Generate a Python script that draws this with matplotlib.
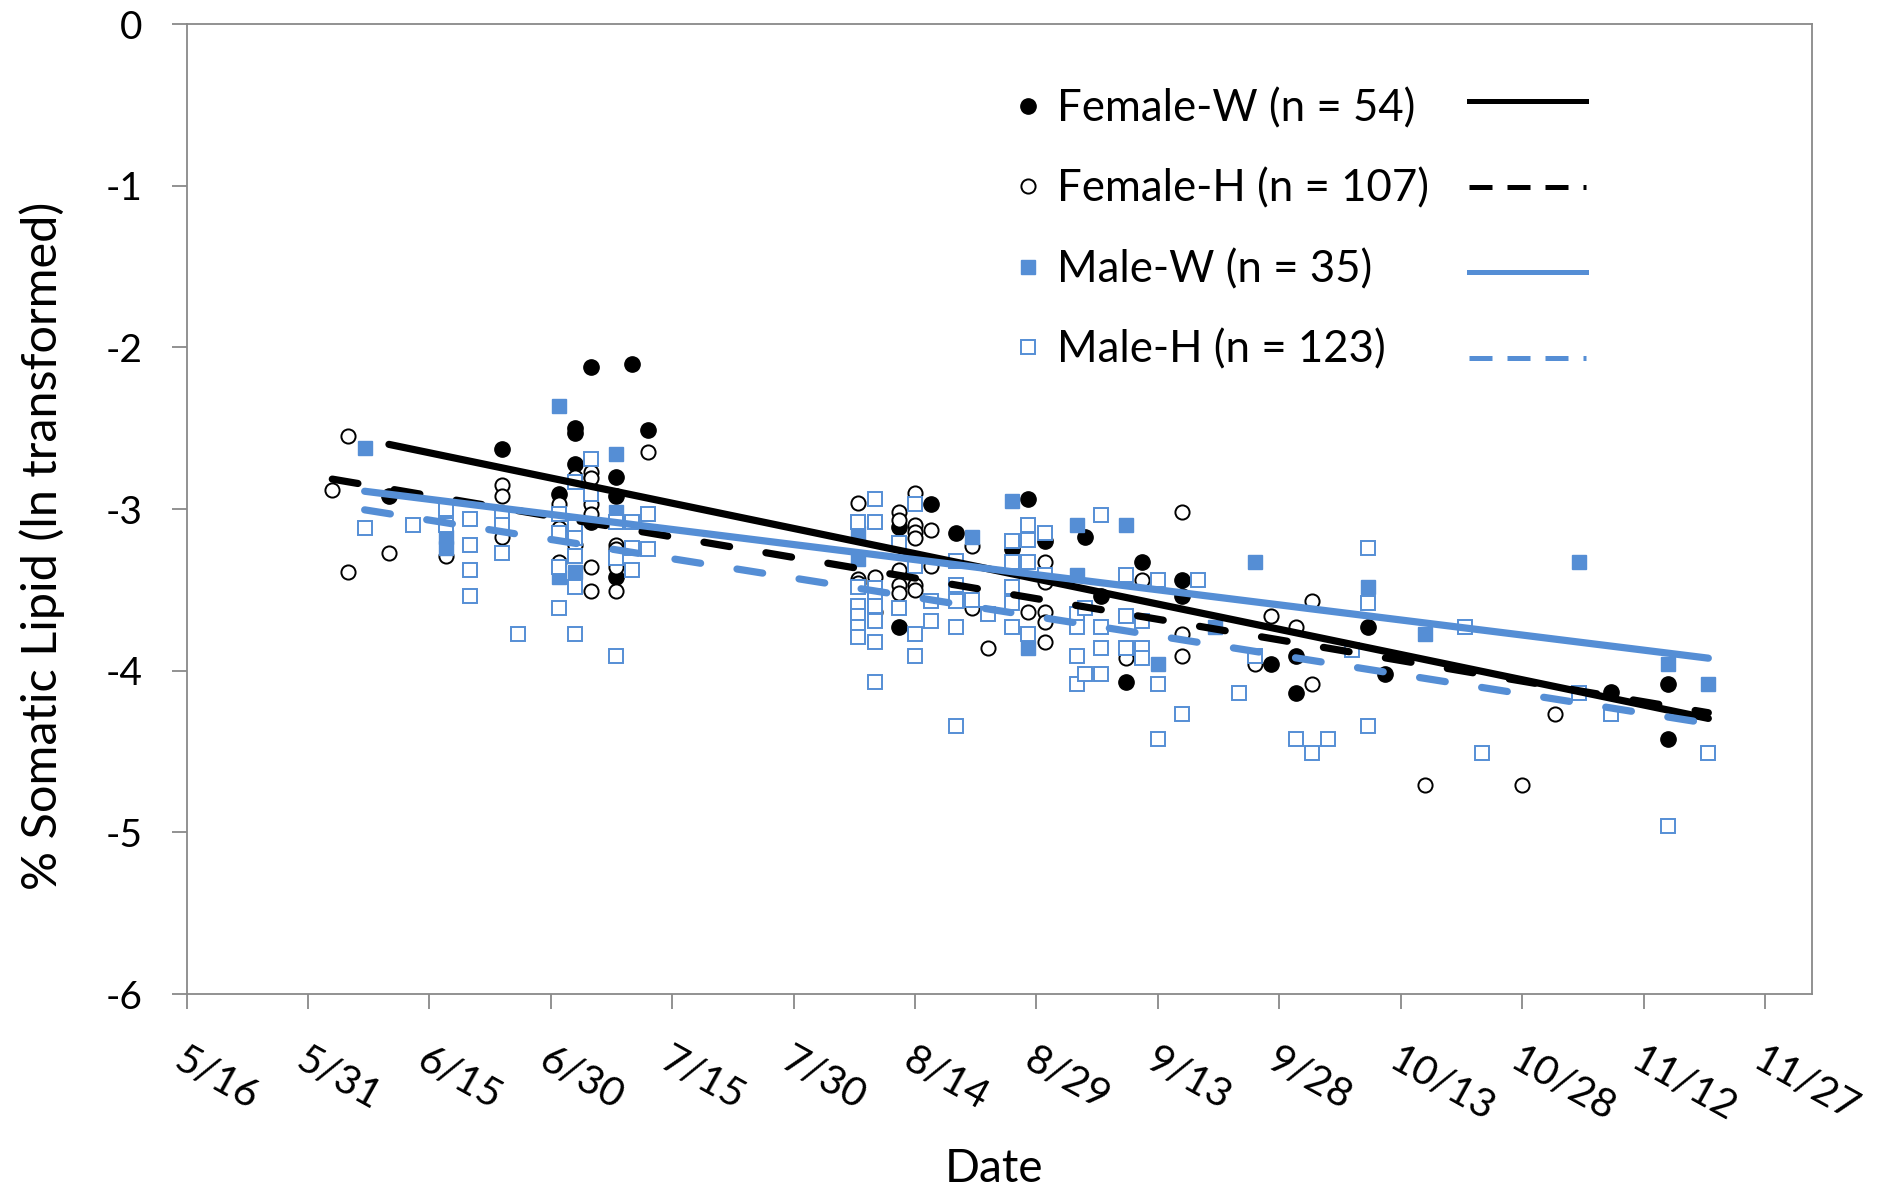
import numpy as np
import pandas as pd
import matplotlib
matplotlib.use('Agg')
import matplotlib.pyplot as plt
from matplotlib.lines import Line2D

plt.rcParams['font.family'] = ['Lato', 'DejaVu Sans']
plt.rcParams['axes.unicode_minus'] = False

YEAR = 2013
BLUE = '#558ED5'
AXIS_GRAY = '#898989'

series_labels = ['Female-W (n = 54)', 'Female-H (n = 107)',
                 'Male-W (n = 35)', 'Male-H (n = 123)']

# Female-W
fw_dates = (['6/10', '6/24', '7/1'] + ['7/3'] * 3 + ['7/5'] * 2 + ['7/8'] * 3
            + ['7/10', '7/12'] + ['8/12'] * 2 + ['8/16', '8/19', '8/26', '8/28', '8/30',
            '9/4', '9/6', '9/9', '9/11'] + ['9/16'] * 2 + ['9/27'] + ['9/30'] * 2
            + ['10/9', '10/11', '11/8'] + ['11/15'] * 2)
fw_lipid = ([-2.92, -2.63, -2.91] + [-2.50, -2.53, -2.72] + [-2.12, -3.08] + [-2.80, -2.92, -3.42]
            + [-2.10, -2.51] + [-3.11, -3.73] + [-2.97, -3.15, -3.25, -2.94, -3.20,
            -3.17, -3.54, -4.07, -3.33] + [-3.44, -3.54] + [-3.96] + [-3.91, -4.14]
            + [-3.73, -4.02, -4.13] + [-4.08, -4.42])

# Female-H
fh_dates = (['6/3'] + ['6/5'] * 2 + ['6/10', '6/17'] + ['6/24'] * 3 + ['7/1'] * 3
            + ['7/3'] * 2 + ['7/5'] * 6 + ['7/8'] * 4 + ['7/12'] + ['8/7'] * 3
            + ['8/9'] * 2 + ['8/12'] * 5 + ['8/14'] * 6 + ['8/16'] * 2 + ['8/21'] * 2
            + ['8/23', '8/28'] + ['8/30'] * 5 + ['9/9', '9/11'] + ['9/16'] * 3
            + ['9/25', '9/27', '9/30'] + ['10/2'] * 2 + ['10/16', '10/28', '11/1'])
fh_lipid = ([-2.88] + [-2.55, -3.39] + [-3.27, -3.29] + [-2.85, -2.92, -3.17] + [-2.97, -3.12, -3.33]
            + [-2.80, -3.22] + [-2.77, -2.81, -2.97, -3.03, -3.36, -3.51]
            + [-3.22, -3.25, -3.36, -3.51] + [-2.65] + [-2.96, -3.43, -3.46]
            + [-3.42, -3.64] + [-3.02, -3.07, -3.38, -3.47, -3.52]
            + [-2.90, -3.10, -3.14, -3.18, -3.47, -3.50] + [-3.13, -3.35] + [-3.23, -3.61]
            + [-3.86, -3.64] + [-3.33, -3.45, -3.64, -3.70, -3.82] + [-3.92, -3.44]
            + [-3.02, -3.77, -3.91] + [-3.96, -3.66, -3.73] + [-3.57, -4.08]
            + [-4.71, -4.71, -4.27])

# Male-W
mw_dates = (['6/7'] + ['6/17'] * 2 + ['7/1'] * 2 + ['7/3'] + ['7/8'] * 2 + ['8/7'] * 2
            + ['8/21', '8/26', '8/28'] + ['9/3'] * 2 + ['9/9', '9/13', '9/20', '9/25',
            '10/9', '10/16', '11/4', '11/15', '11/20'])
mw_lipid = ([-2.62] + [-3.17, -3.24] + [-2.36, -3.42] + [-3.39] + [-2.66, -3.02] + [-3.15, -3.31]
            + [-3.17, -2.95, -3.86] + [-3.10, -3.41] + [-3.10, -3.96, -3.73, -3.33,
            -3.48, -3.77, -3.33, -3.96, -4.08])

# Male-H
mh_dates = (['6/7', '6/13'] + ['6/17'] * 2 + ['6/20'] * 4 + ['6/24'] * 3 + ['6/26']
            + ['7/1'] * 4 + ['7/3'] * 6 + ['7/5'] * 2 + ['7/8'] * 3 + ['7/10'] * 3
            + ['7/12'] * 2 + ['8/7'] * 6 + ['8/9'] * 8 + ['8/12'] * 2 + ['8/14'] * 4
            + ['8/16'] * 2 + ['8/19'] * 5 + ['8/21', '8/23'] + ['8/26'] * 5 + ['8/28'] * 4
            + ['8/30'] * 2 + ['9/3'] * 4 + ['9/4'] * 2 + ['9/6'] * 4 + ['9/9'] * 3
            + ['9/11'] * 3 + ['9/13'] * 3 + ['9/16', '9/18', '9/23', '9/25', '9/30',
            '10/2', '10/4', '10/7'] + ['10/9'] * 3 + ['10/21', '10/23', '11/4', '11/8',
            '11/15', '11/20'])
mh_lipid = ([-3.12, -3.10] + [-3.00, -3.10] + [-3.06, -3.22, -3.38, -3.54] + [-3.04, -3.10, -3.27]
            + [-3.77] + [-3.03, -3.15, -3.36, -3.61] + [-2.83, -3.11, -3.18, -3.29, -3.48, -3.77]
            + [-2.69, -2.91] + [-3.08, -3.30, -3.91] + [-3.08, -3.24, -3.38] + [-3.03, -3.25]
            + [-3.08, -3.48, -3.60, -3.66, -3.73, -3.79]
            + [-2.94, -3.08, -3.49, -3.54, -3.60, -3.69, -3.82, -4.07] + [-3.21, -3.61]
            + [-2.97, -3.35, -3.77, -3.91] + [-3.57, -3.69] + [-3.32, -3.47, -3.57, -3.73, -4.34]
            + [-3.56, -3.65] + [-3.20, -3.33, -3.48, -3.58, -3.73] + [-3.10, -3.19, -3.33, -3.77]
            + [-3.15, -3.41] + [-3.65, -3.73, -3.91, -4.08] + [-3.61, -4.02]
            + [-3.04, -3.73, -3.86, -4.02] + [-3.41, -3.66, -3.86] + [-3.69, -3.86, -3.92]
            + [-3.44, -4.08, -4.42] + [-4.27, -3.44, -4.14, -3.91, -4.42, -4.51, -4.42, -3.87]
            + [-3.24, -3.58, -4.34] + [-3.73, -4.51, -4.14, -4.27, -4.96, -4.51])

# linear trend per group: value at first date, slope per day
trend_start = ['6/10', '6/3', '6/7', '6/7']
trend_end = ['11/20', '11/20', '11/20', '11/20']
trend_value0 = [-2.60, -2.815, -2.89, -3.005]
trend_slope = [-0.0104, -0.0085, -0.00622, -0.00796]

x_start = '5/16'
tick_step_days = 15
n_ticks = 14


def to_dt(md):
    if isinstance(md, str):
        md = [md]
    return pd.to_datetime([f'{YEAR}/{d}' for d in md], format='%Y/%m/%d')


fig = plt.figure(figsize=(18.79, 11.91), dpi=100)
ax = fig.add_axes([0.0993, 0.1654, 0.8650, 0.8144])

fw_pts, = ax.plot(to_dt(fw_dates), fw_lipid, ls='none', marker='o', ms=11,
                  mfc='black', mec='black', zorder=2)
fh_pts, = ax.plot(to_dt(fh_dates), fh_lipid, ls='none', marker='o', ms=10.2,
                  mfc='white', mec='black', mew=1.4, zorder=2)
mw_pts, = ax.plot(to_dt(mw_dates), mw_lipid, ls='none', marker='s', ms=10.2,
                  mfc=BLUE, mec=BLUE, zorder=2)
mh_pts, = ax.plot(to_dt(mh_dates), mh_lipid, ls='none', marker='s', ms=10.2,
                  mfc='white', mec=BLUE, mew=1.4, zorder=2)

line_colors = ['black', 'black', BLUE, BLUE]
line_dashed = [False, True, False, True]
for s, e, v0, k, c, dashed in zip(trend_start, trend_end, trend_value0, trend_slope,
                                   line_colors, line_dashed):
    xs = to_dt([s, e])
    span = (xs[1] - xs[0]).days
    ys = [v0, v0 + k * span]
    ls = (0, (3.6, 5.1)) if dashed else '-'
    ax.plot(xs, ys, color=c, lw=5.2, ls=ls, dash_capstyle='round',
            solid_capstyle='round', zorder=3)

# axes, ticks
t0 = to_dt(x_start)[0]
ticks = pd.date_range(t0, periods=n_ticks, freq=f'{tick_step_days}D')
ax.set_xlim(t0, t0 + pd.Timedelta(days=200.8))
ax.set_xticks(ticks)
ax.set_xticklabels([f'{d.month}/{d.day}' for d in ticks])
ax.set_ylim(-6, 0)
ax.set_yticks(np.arange(-6, 1, 1))
ax.set_yticklabels([str(v) for v in range(-6, 1)])

for sp in ax.spines.values():
    sp.set_color(AXIS_GRAY)
    sp.set_linewidth(1.3)
ax.tick_params(axis='both', direction='out', length=11, width=1.3, color=AXIS_GRAY)
ax.tick_params(axis='y', pad=21, labelsize=28)
ax.tick_params(axis='x', pad=23, labelsize=29.5)
for lab in ax.get_xticklabels():
    lab.set_rotation(-29)
    lab.set_ha('left')
    lab.set_va('top')
    lab.set_rotation_mode('anchor')

ax.set_xlabel('Date', fontsize=33)
ax.xaxis.set_label_coords(0.4967, -0.180)
ax.xaxis.label.set_va('center')
ax.set_ylabel('% Somatic Lipid (ln transformed)', fontsize=35)
ax.yaxis.set_label_coords(-0.089, 0.462)
ax.yaxis.label.set_va('center')

# legend: markers with labels, trend line samples in a second column
leg1 = ax.legend([fw_pts, fh_pts, mw_pts, mh_pts], series_labels, loc='upper left',
                 bbox_to_anchor=(0.507, 0.934), frameon=False, fontsize=31.5,
                 handlelength=0.8, handletextpad=0.25, borderpad=0, borderaxespad=0,
                 labelspacing=0.895, numpoints=1)
ax.add_artist(leg1)
line_handles = [Line2D([], [], color=c, lw=3.6, ls=(0, (4.6, 3.0)) if d else '-')
                for c, d in zip(line_colors, line_dashed)]
ax.legend(line_handles, [' '] * 4, loc='upper left', bbox_to_anchor=(0.789, 0.939),
          frameon=False, fontsize=31.5, handlelength=2.67, handletextpad=0,
          borderpad=0, borderaxespad=0, labelspacing=1.02)

fig.savefig('out.png', dpi=100)
